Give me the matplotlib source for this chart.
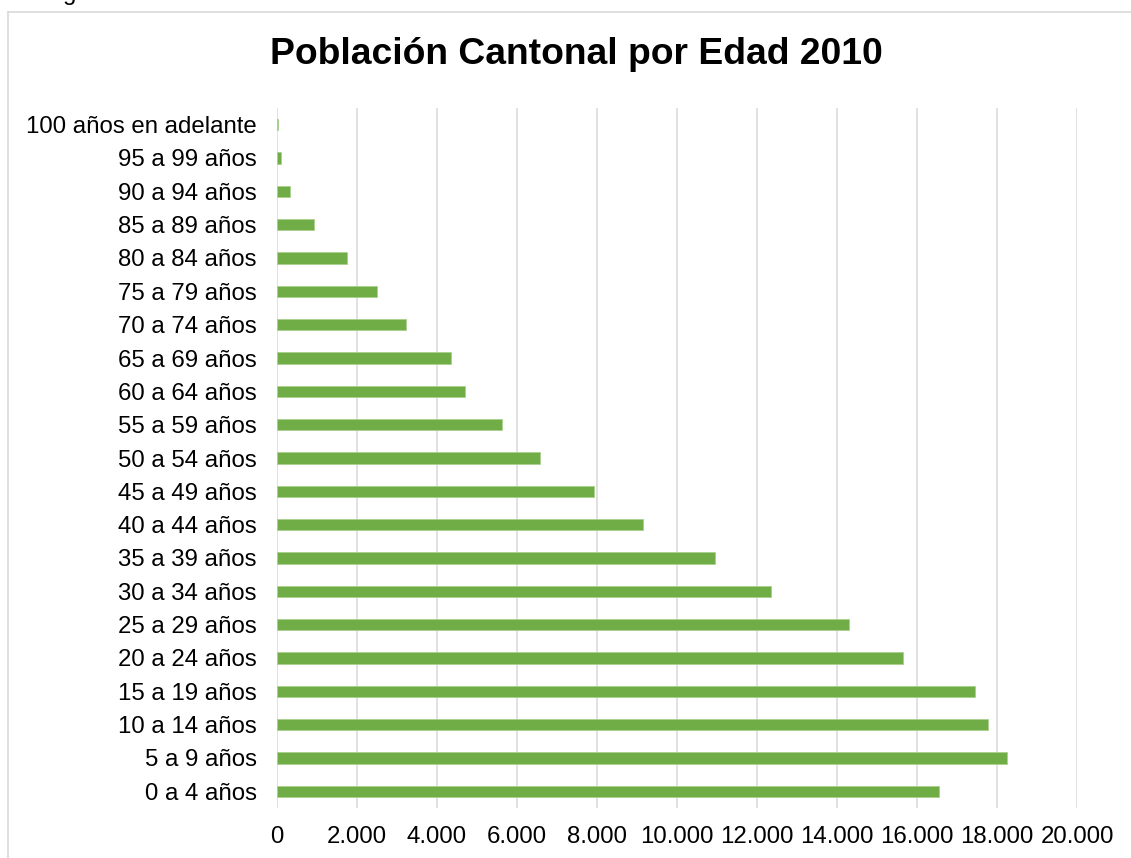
import matplotlib
matplotlib.use("Agg")
import matplotlib.pyplot as plt
from matplotlib.lines import Line2D
from matplotlib.ticker import FuncFormatter

plt.rcParams['font.family'] = ['Liberation Sans', 'DejaVu Sans']

# Age groups (bottom to top) and population counts
age_groups = [
    "0 a 4 años", "5 a 9 años", "10 a 14 años", "15 a 19 años", "20 a 24 años",
    "25 a 29 años", "30 a 34 años", "35 a 39 años", "40 a 44 años", "45 a 49 años",
    "50 a 54 años", "55 a 59 años", "60 a 64 años", "65 a 69 años", "70 a 74 años",
    "75 a 79 años", "80 a 84 años", "85 a 89 años", "90 a 94 años", "95 a 99 años",
    "100 años en adelante",
]
population = [
    16560, 18260, 17780, 17440, 15660,
    14290, 12360, 10940, 9160, 7935,
    6565, 5615, 4700, 4350, 3220,
    2500, 1760, 935, 325, 100,
    15,
]
x_ticks = [0, 2000, 4000, 6000, 8000, 10000, 12000, 14000, 16000, 18000, 20000]
title = "Población Cantonal por Edad 2010"

W, H, DPI = 1131, 858, 100
fig = plt.figure(figsize=(W / DPI, H / DPI), dpi=DPI)
fig.patch.set_facecolor("white")

ax = fig.add_axes([277 / W, 1 - 808 / H, (1077 - 277) / W, (808 - 108) / H])

pos = list(range(len(age_groups)))
ax.barh(pos, population, height=0.34, color="#70AD47",
        edgecolor="#A9D18E", linewidth=0.6, zorder=3)

ax.set_xlim(0, 20000)
ax.set_ylim(-0.5, len(age_groups) - 0.5)
ax.set_xticks(x_ticks)
ax.xaxis.set_major_formatter(
    FuncFormatter(lambda v, p: f"{int(v):,}".replace(",", ".")))
ax.set_yticks(pos)
ax.set_yticklabels(age_groups)

ax.grid(axis="x", color="#D9D9D9", linewidth=1.1, zorder=0)
ax.grid(axis="y", visible=False)
for s in ax.spines.values():
    s.set_visible(False)
ax.tick_params(axis="both", length=0, labelsize=17.3, colors="black")
ax.tick_params(axis="x", pad=13)
ax.tick_params(axis="y", pad=14.5)

fig.text(576 / W, 1 - 55 / H, title, ha="center", va="center",
         fontsize=26.8, fontweight="bold")

# Chart frame
fig.add_artist(Line2D([8 / W, 1.0], [1 - 12 / H, 1 - 12 / H],
                      transform=fig.transFigure, color="#D9D9D9", linewidth=1.2))
fig.add_artist(Line2D([8 / W, 8 / W], [1 - 12 / H, 0.0],
                      transform=fig.transFigure, color="#D9D9D9", linewidth=1.2))

# Descender of the caption line above the chart
fig.text(63 / W, 1 - 0 / H, "g", ha="left", va="baseline", fontsize=17.3)

fig.savefig("out.png", dpi=DPI)
